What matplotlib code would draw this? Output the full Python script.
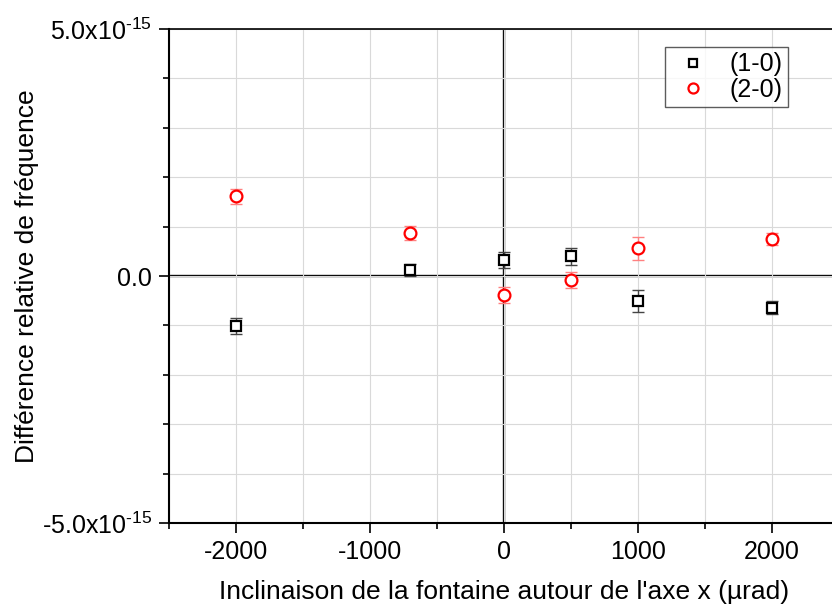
import matplotlib.pyplot as plt
from matplotlib.ticker import FixedLocator, MultipleLocator, FuncFormatter

plt.rcParams['font.family'] = ['Liberation Sans', 'DejaVu Sans']
plt.rcParams['mathtext.fontset'] = 'custom'
plt.rcParams['mathtext.rm'] = 'Liberation Sans'
plt.rcParams['mathtext.it'] = 'Liberation Sans'
plt.rcParams['axes.unicode_minus'] = False

# inclinaison (µrad)
x = [-2000, -700, 0, 500, 1000, 2000]

# (1-0), units of 1e-15
y10 = [-1.01, 0.12, 0.32, 0.40, -0.51, -0.64]
e10 = [0.16, 0.13, 0.16, 0.17, 0.22, 0.13]

# (2-0), units of 1e-15
y20 = [1.61, 0.87, -0.39, -0.08, 0.56, 0.75]
e20 = [0.16, 0.15, 0.16, 0.16, 0.23, 0.12]

xticks = [-2000, -1000, 0, 1000, 2000]
yticks = [-5, 0, 5]

scale = 1e-15

fig = plt.figure(figsize=(8.32, 6.07), dpi=100)
ax = fig.add_axes([169 / 832, 1 - 523 / 607, 670 / 832, 494 / 607])

ax.set_xlim(-2500, 2500)
ax.set_ylim(-5e-15, 5e-15)

ax.grid(True, which='both', color='#d9d9d9', lw=0.8, zorder=0)
ax.axhline(0, color='black', lw=1.7, zorder=1)
ax.axvline(0, color='black', lw=1.7, zorder=1)

ax.errorbar(x, [v * scale for v in y10], yerr=[v * scale for v in e10],
            fmt='none', ecolor='#444444', elinewidth=1, capsize=4, capthick=1, zorder=3)
ax.errorbar(x, [v * scale for v in y20], yerr=[v * scale for v in e20],
            fmt='none', ecolor='#ff8080', elinewidth=1, capsize=4, capthick=1, zorder=3)
ax.plot(x, [v * scale for v in y10], 's', ms=7.5, mfc='white', mec='black',
        mew=1.6, ls='none', label='(1-0)', zorder=4)
ax.plot(x, [v * scale for v in y20], 'o', ms=8.5, mfc='white', mec='red',
        mew=1.6, ls='none', label='(2-0)', zorder=4)

ax.xaxis.set_major_locator(FixedLocator(xticks))
ax.xaxis.set_minor_locator(MultipleLocator(500))
ax.yaxis.set_major_locator(FixedLocator([v * scale for v in yticks]))
ax.yaxis.set_minor_locator(MultipleLocator(1e-15))


def yfmt(v, pos):
    m = v / 1e-15
    if abs(m) < 1e-9:
        return '0.0'
    return '%.1fx10$^{\\text{-15}}$' % m


ax.yaxis.set_major_formatter(FuncFormatter(yfmt))
ax.xaxis.set_major_formatter(FuncFormatter(lambda v, p: '%d' % v))

ax.tick_params(which='major', direction='out', length=7, width=1.2, labelsize=18, pad=5)
ax.tick_params(which='minor', direction='out', length=4.5, width=1.2)

for side in ['left', 'bottom']:
    ax.spines[side].set_linewidth(1.5)
ax.spines['top'].set_linewidth(1.2)
ax.spines['right'].set_visible(False)

ax.set_xlabel("Inclinaison de la fontaine autour de l'axe x (µrad)", fontsize=19, labelpad=12)
ax.set_ylabel('Différence relative de fréquence', fontsize=19, labelpad=2)

leg = ax.legend(loc='upper left', bbox_to_anchor=((665 - 169) / 670, (523 - 47) / 494),
                fontsize=18, frameon=True, fancybox=False, edgecolor='#333333',
                borderpad=0.22, labelspacing=0.05, handletextpad=0.55, handlelength=1.8,
                borderaxespad=0, markerscale=0.85)
leg.get_frame().set_linewidth(1)

fig.savefig('out.png', dpi=100)
